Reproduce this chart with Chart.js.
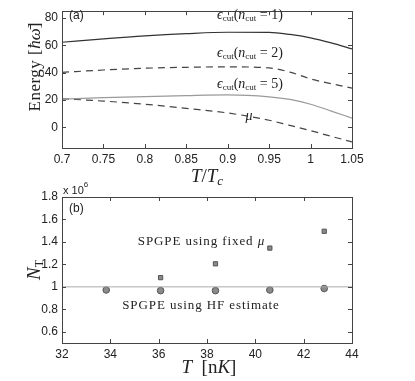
<!DOCTYPE html>
<html>
<head>
<meta charset="utf-8">
<script src="https://cdn.jsdelivr.net/npm/chart.js@4"></script>
<style>
  body { margin: 0; background: #fff; }
  canvas { position: absolute; left: 0; }
  #energyChart { top: 0; }
  #numberChart { top: 178px; }
</style>
</head>
<body>
<canvas id="energyChart" width="415" height="190"></canvas>
<canvas id="numberChart" width="415" height="203"></canvas>
<script>
// panel (a): energies vs T/Tc
const tRatio = [0.7, 0.75, 0.8, 0.85, 0.9, 0.95, 0.975, 1.0, 1.025, 1.05];
const eCut1 = [62.3, 64.8, 67.0, 68.6, 69.6, 69.5, 68.0, 65.5, 61.8, 57.4];
const eCut2 = [40.3, 42.0, 43.3, 44.0, 44.3, 43.5, 40.5, 35.5, 32.0, 28.8];
const eCut5 = [20.8, 21.8, 22.6, 23.3, 23.8, 22.4, 20.5, 17.0, 12.0, 6.8];
const muVals = [21.0, 19.3, 17.0, 14.0, 10.6, 5.3, 1.5, -2.3, -6.5, -10.5];
const xTicksA = [0.7, 0.75, 0.8, 0.85, 0.9, 0.95, 1.0, 1.05];
const yTicksA = [0, 20, 40, 60, 80];

// panel (b): total atom number vs T
const tempNK = [33.83, 36.08, 38.35, 40.6, 42.85];
const nHF = [0.972, 0.966, 0.966, 0.972, 0.985];
const tempFixed = [36.08, 38.35, 40.6, 42.85];
const nFixed = [1.082, 1.205, 1.345, 1.495];
const xTicksB = [32, 34, 36, 38, 40, 42, 44];
const yTicksB = [0.6, 0.8, 1.0, 1.2, 1.4, 1.6, 1.8];

const SANS = '"Liberation Sans", Arial, sans-serif';
const SERIF = '"Liberation Serif", "Times New Roman", serif';

// draw a run of text pieces with own fonts / vertical offsets
function drawRich(ctx, parts, x, y, align) {
    ctx.save();
    ctx.textBaseline = 'alphabetic';
    ctx.textAlign = 'left';
    let w = 0;
    parts.forEach(p => {
        ctx.font = p.f;
        ctx.letterSpacing = p.ls || '0px';
        p.w = ctx.measureText(p.t).width;
        w += p.w;
    });
    let cx = align === 'center' ? x - w / 2 : x;
    parts.forEach(p => {
        ctx.font = p.f;
        ctx.letterSpacing = p.ls || '0px';
        ctx.fillStyle = p.c || '#222';
        ctx.fillText(p.t, cx, y + (p.dy || 0));
        cx += p.w;
    });
    ctx.restore();
}

function epsLabel(n) {
    return [
        {t: 'ϵ', f: 'italic 14px ' + SERIF},
        {t: 'cut', f: '9px ' + SERIF, dy: 2},
        {t: '(', f: '14px ' + SERIF},
        {t: 'n', f: 'italic 14px ' + SERIF},
        {t: 'cut', f: '9px ' + SERIF, dy: 2},
        {t: ' = ' + n + ')', f: '14px ' + SERIF}
    ];
}

// frame with inward ticks on all four sides, MATLAB style
const framePlugin = {
    id: 'frame',
    afterDraw(chart, args, opts) {
        const ctx = chart.ctx;
        const a = chart.chartArea;
        const xs = chart.scales.x, ys = chart.scales.y;
        ctx.save();
        ctx.strokeStyle = '#444';
        ctx.lineWidth = 1;
        ctx.strokeRect(Math.round(a.left) + 0.5, Math.round(a.top) + 0.5,
            Math.round(a.right - a.left), Math.round(a.bottom - a.top));
        ctx.beginPath();
        xs.ticks.forEach(t => {
            const px = Math.round(xs.getPixelForValue(t.value)) + 0.5;
            ctx.moveTo(px, a.bottom); ctx.lineTo(px, a.bottom - 4);
            ctx.moveTo(px, a.top); ctx.lineTo(px, a.top + 4);
        });
        ys.ticks.forEach(t => {
            const py = Math.round(ys.getPixelForValue(t.value)) + 0.5;
            ctx.moveTo(a.left, py); ctx.lineTo(a.left + 4, py);
            ctx.moveTo(a.right, py); ctx.lineTo(a.right - 4, py);
        });
        ctx.stroke();
        ctx.restore();
        if (opts.draw) opts.draw(ctx, chart);
    }
};

function tickCallback(v) { return String(+v.toFixed(2)); }

function baseScales(xMin, xMax, xTicks, yMin, yMax, yTicks, xH) {
    return {
        x: {
            type: 'linear', min: xMin, max: xMax,
            grid: {display: false, drawTicks: false}, border: {display: false},
            afterBuildTicks: s => { s.ticks = xTicks.map(v => ({value: v})); },
            afterFit: s => { s.height = xH; },
            ticks: {color: '#222', font: {family: SANS, size: 12}, padding: 4, maxRotation: 0,
                autoSkip: false, callback: tickCallback}
        },
        y: {
            type: 'linear', min: yMin, max: yMax,
            grid: {display: false, drawTicks: false}, border: {display: false},
            afterBuildTicks: s => { s.ticks = yTicks.map(v => ({value: v})); },
            afterFit: s => { s.width = 62; },
            ticks: {color: '#222', font: {family: SANS, size: 12}, padding: 4,
                autoSkip: false, callback: tickCallback}
        }
    };
}

const toXY = (xs, ys) => xs.map((x, i) => ({x: x, y: ys[i]}));

function lineSet(vals, color, dash) {
    return {
        data: toXY(tRatio, vals),
        borderColor: color,
        borderWidth: 1.2,
        borderDash: dash || [],
        pointRadius: 0,
        cubicInterpolationMode: 'monotone',
        fill: false
    };
}

new Chart(document.getElementById('energyChart').getContext('2d'), {
    type: 'line',
    data: {
        datasets: [
            lineSet(eCut1, '#333'),
            lineSet(eCut2, '#444', [7, 5]),
            lineSet(eCut5, '#9a9a9a'),
            lineSet(muVals, '#444', [7, 5])
        ]
    },
    options: {
        responsive: false,
        animation: false,
        events: [],
        layout: {padding: {left: 0, top: 3, right: 63, bottom: 0}},
        plugins: {
            legend: {display: false},
            tooltip: {enabled: false},
            frame: {
                draw(ctx, chart) {
                    drawRich(ctx, [{t: '(a)', f: '12px ' + SANS}], 69, 19);
                    drawRich(ctx, epsLabel(1), 250, 19, 'center');
                    drawRich(ctx, epsLabel(2), 250, 57, 'center');
                    drawRich(ctx, epsLabel(5), 250, 88, 'center');
                    drawRich(ctx, [{t: 'μ', f: 'italic 14px ' + SERIF}], 249, 120, 'center');
                    // x title  T/Tc
                    drawRich(ctx, [
                        {t: 'T', f: 'italic 19px ' + SERIF},
                        {t: '/', f: '19px ' + SERIF},
                        {t: 'T', f: 'italic 19px ' + SERIF},
                        {t: 'c', f: 'italic 13px ' + SERIF, dy: 3}
                    ], 207, 182, 'center');
                    // y title  Energy [ħω̄]
                    ctx.save();
                    ctx.translate(40, 67);
                    ctx.rotate(-Math.PI / 2);
                    drawRich(ctx, [
                        {t: 'Energy [', f: '17px ' + SERIF, ls: '0.5px'},
                        {t: 'ħω̄', f: 'italic 17px ' + SERIF},
                        {t: ']', f: '17px ' + SERIF}
                    ], 0, 0, 'center');
                    ctx.restore();
                }
            }
        },
        scales: baseScales(0.7, 1.05, xTicksA, -15, 85, yTicksA, 42)
    },
    plugins: [framePlugin]
});

new Chart(document.getElementById('numberChart').getContext('2d'), {
    type: 'scatter',
    data: {
        datasets: [
            {
                type: 'line',
                data: [{x: 32, y: 1}, {x: 44, y: 1}],
                borderColor: '#aaa', borderWidth: 1, pointRadius: 0
            },
            {
                data: toXY(tempFixed, nFixed),
                pointStyle: 'rect', pointRadius: 3,
                backgroundColor: '#8a8a8a', borderColor: '#555', borderWidth: 1
            },
            {
                data: toXY(tempNK, nHF),
                pointStyle: 'circle', pointRadius: 3.3,
                backgroundColor: '#8a8a8a', borderColor: '#555', borderWidth: 1
            }
        ]
    },
    options: {
        responsive: false,
        animation: false,
        events: [],
        layout: {padding: {left: 0, top: 19, right: 63, bottom: 0}},
        plugins: {
            legend: {display: false},
            tooltip: {enabled: false},
            frame: {
                draw(ctx, chart) {
                    drawRich(ctx, [{t: '(b)', f: '12px ' + SANS}], 69, 34);
                    drawRich(ctx, [
                        {t: 'x 10', f: '11px ' + SANS},
                        {t: '6', f: '8px ' + SANS, dy: -7}
                    ], 63, 16);
                    drawRich(ctx, [
                        {t: 'SPGPE using fixed ', f: '13px ' + SERIF, ls: '0.9px'},
                        {t: 'μ', f: 'italic 13px ' + SERIF}
                    ], 201, 67, 'center');
                    drawRich(ctx, [{t: 'SPGPE using HF estimate', f: '13px ' + SERIF, ls: '0.9px'}],
                        201, 131, 'center');
                    drawRich(ctx, [
                        {t: 'T', f: 'italic 19px ' + SERIF},
                        {t: '  [n', f: '19px ' + SERIF},
                        {t: 'K', f: 'italic 19px ' + SERIF},
                        {t: ']', f: '19px ' + SERIF}
                    ], 209, 195, 'center');
                    ctx.save();
                    ctx.translate(40, 92);
                    ctx.rotate(-Math.PI / 2);
                    drawRich(ctx, [
                        {t: 'N', f: 'italic 19px ' + SERIF},
                        {t: 'T', f: '12px ' + SERIF, dy: 3}
                    ], 0, 0, 'center');
                    ctx.restore();
                }
            }
        },
        scales: baseScales(32, 44, xTicksB, 0.5, 1.8, yTicksB, 38)
    },
    plugins: [framePlugin]
});
</script>
</body>
</html>
